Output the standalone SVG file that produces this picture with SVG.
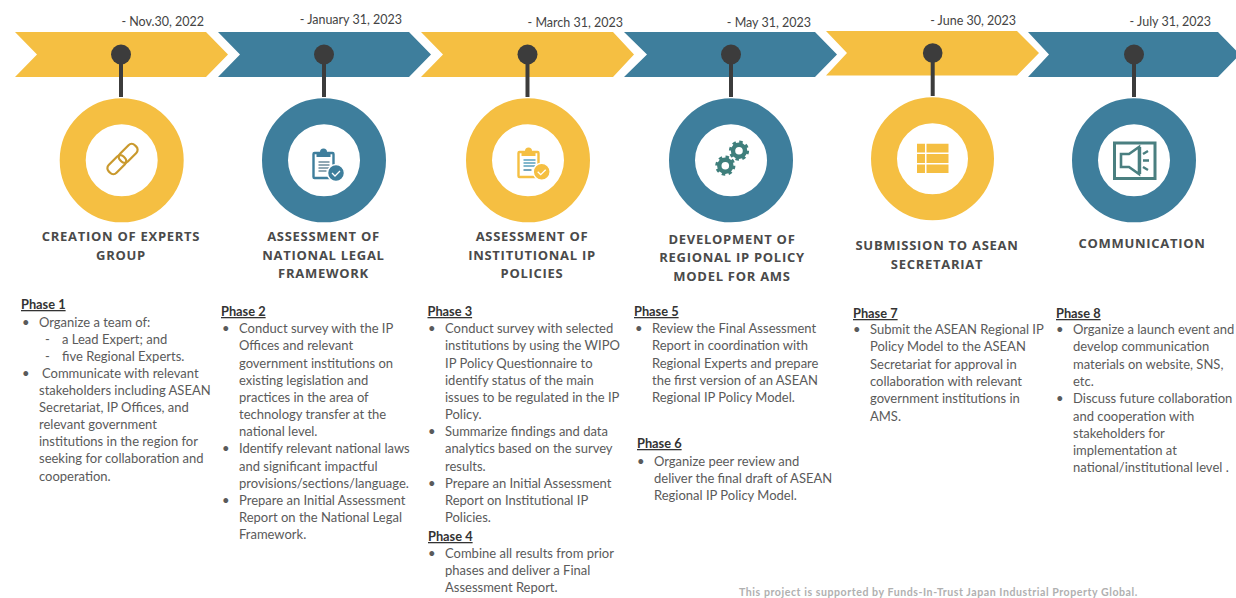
<svg xmlns="http://www.w3.org/2000/svg" width="1236" height="598" viewBox="0 0 1236 598">
<style>
.y{fill:#f5bf42}.b{fill:#3e7e9c}
.ry{fill:none;stroke:#f5bf42;stroke-width:26}.rb{fill:none;stroke:#3e7e9c;stroke-width:26}
.stem{stroke:#3c3c3c;stroke-width:4;fill:none}.pin{fill:#3c3c3c}
text{font-family:Lato,"Liberation Sans",sans-serif}
.d{font-size:12.5px;fill:#444;text-anchor:end}
.t{font-family:"Open Sans","Liberation Sans",sans-serif;font-size:13px;font-weight:700;fill:#4a4a4a;text-anchor:middle;letter-spacing:.72px}
.h{font-size:12.8px;font-weight:700;fill:#333;text-decoration:underline}
.p{font-size:13px;fill:#5a5a5a}
.f{font-size:10.6px;font-weight:700;fill:#b0b0b0;letter-spacing:.55px}
</style>
<defs>
<g id="gear"><circle r="6" fill="none" stroke="#3f7f7c" stroke-width="4.4"/><circle r="8.6" fill="none" stroke="#3f7f7c" stroke-width="3" stroke-dasharray="3.4 3.35"/></g>
<g id="clip"><rect x="1" y="3" width="20" height="25" rx="1" fill="none" stroke-width="2.4" stroke="currentColor"/><path d="M4 3h14v4H4z" fill="currentColor"/><circle cx="11" cy="2" r="3.5" fill="currentColor"/></g>
</defs>
<rect width="1236" height="598" fill="#fff"/>
<g id="node1">
<polygon class="y" points="15,32 206,32 228,54.5 206,77 15,77 37,54.5"/>
<circle class="ry" cx="121.7" cy="160.3" r="49"/>
<g transform="translate(122.5 159) rotate(-45)" fill="none" stroke="#c9992d" stroke-width="2.2"><rect x="-18.5" y="-5.5" width="21" height="11" rx="4.5"/><rect x="-2.5" y="-5.5" width="21" height="11" rx="4.5"/></g>
<text class="d" x="204" y="26">- Nov.30, 2022</text>
<text class="t"><tspan x="121" y="241">CREATION OF EXPERTS</tspan><tspan x="121" y="260">GROUP</tspan></text>
<text class="h" x="21" y="309">Phase 1</text>
<text class="p"><tspan x="22" y="327">•</tspan><tspan x="39" y="327">Organize a team of:</tspan><tspan x="45" y="344">-</tspan><tspan x="62" y="344">a Lead Expert; and</tspan><tspan x="45" y="361">-</tspan><tspan x="62" y="361">five Regional Experts.</tspan><tspan x="22" y="378">•</tspan><tspan x="42" y="378">Communicate with relevant</tspan><tspan x="39" y="395">stakeholders including ASEAN</tspan><tspan x="39" y="412">Secretariat, IP Offices, and</tspan><tspan x="39" y="429">relevant government</tspan><tspan x="39" y="446">institutions in the region for</tspan><tspan x="39" y="463">seeking for collaboration and</tspan><tspan x="39" y="481">cooperation.</tspan></text>
</g>
<g id="node2">
<polygon class="b" points="218,32 409,32 431,54.5 409,77 218,77 240,54.5"/>
<circle class="rb" cx="324" cy="160.3" r="49"/>
<g transform="translate(312.5 150)" color="#3e7e9c"><use href="#clip"/><path d="M6 12h11M6 15h11M6 18h11M6 21h8" stroke="#6d8c9c" stroke-width="1.4"/></g>
<circle cx="336" cy="173" r="8.5" fill="#3e7e9c" stroke="#fff" stroke-width="1.5"/><path d="M332 173l3 3 5-5" fill="none" stroke="#fff" stroke-width="1.3"/>
<text class="d" x="402" y="24">- January 31, 2023</text>
<text class="t"><tspan x="323.5" y="241">ASSESSMENT OF</tspan><tspan x="323.5" y="260">NATIONAL LEGAL</tspan><tspan x="323.5" y="278">FRAMEWORK</tspan></text>
<text class="h" x="221" y="316">Phase 2</text>
<text class="p"><tspan x="222" y="333">•</tspan><tspan x="239" y="333">Conduct survey with the IP</tspan><tspan x="239" y="350">Offices and relevant</tspan><tspan x="239" y="367.5">government institutions on</tspan><tspan x="239" y="385">existing legislation and</tspan><tspan x="239" y="402">practices in the area of</tspan><tspan x="239" y="419">technology transfer at the</tspan><tspan x="239" y="436">national level.</tspan><tspan x="222" y="453">•</tspan><tspan x="239" y="453">Identify relevant national laws</tspan><tspan x="239" y="470.5">and significant impactful</tspan><tspan x="239" y="487.5">provisions/sections/language.</tspan><tspan x="222" y="505">•</tspan><tspan x="239" y="505">Prepare an Initial Assessment</tspan><tspan x="239" y="522">Report on the National Legal</tspan><tspan x="239" y="539">Framework.</tspan></text>
</g>
<g id="node3">
<polygon class="y" points="421,32 613,32 634,54.5 613,77 421,77 443,54.5"/>
<circle class="ry" cx="528" cy="160.3" r="49"/>
<g transform="translate(517.5 149)" color="#f5bf42"><use href="#clip"/><path d="M6 11h12M6 14h12M6 17h12" stroke="#5aa0bd" stroke-width="1.4"/><path d="M6 21h8" stroke="#3e7e9c" stroke-width="1.4"/></g>
<circle cx="541.7" cy="171.7" r="8.5" fill="#f5bf42" stroke="#fff" stroke-width="1.5"/><path d="M537.7 171.7l3 3 5-5" fill="none" stroke="#fff" stroke-width="1.3"/>
<text class="d" x="623" y="27">- March 31, 2023</text>
<text class="t"><tspan x="532" y="241">ASSESSMENT OF</tspan><tspan x="532" y="260">INSTITUTIONAL IP</tspan><tspan x="532" y="278">POLICIES</tspan></text>
<text class="h" x="427.5" y="316">Phase 3</text>
<text class="p"><tspan x="428" y="333">•</tspan><tspan x="445" y="333">Conduct survey with selected</tspan><tspan x="445" y="350">institutions by using the WIPO</tspan><tspan x="445" y="367.5">IP Policy Questionnaire to</tspan><tspan x="445" y="385">identify status of the main</tspan><tspan x="445" y="402">issues to be regulated in the IP</tspan><tspan x="445" y="419">Policy.</tspan><tspan x="428" y="436">•</tspan><tspan x="445" y="436">Summarize findings and data</tspan><tspan x="445" y="453">analytics based on the survey</tspan><tspan x="445" y="470.5">results.</tspan><tspan x="428" y="487.5">•</tspan><tspan x="445" y="487.5">Prepare an Initial Assessment</tspan><tspan x="445" y="505">Report on Institutional IP</tspan><tspan x="445" y="522">Policies.</tspan></text>
<text class="h" x="428" y="541">Phase 4</text>
<text class="p"><tspan x="428" y="558">•</tspan><tspan x="445" y="558">Combine all results from prior</tspan><tspan x="445" y="575">phases and deliver a Final</tspan><tspan x="445" y="592">Assessment Report.</tspan></text>
</g>
<g id="node4">
<polygon class="b" points="624,32 815,32 837,54.5 815,77 624,77 647,54.5"/>
<circle class="rb" cx="731" cy="160.3" r="49"/>
<use href="#gear" x="725.3" y="165.7"/><use href="#gear" x="739" y="150.7"/>
<text class="d" x="811" y="27">- May 31, 2023</text>
<text class="t"><tspan x="732" y="243.5">DEVELOPMENT OF</tspan><tspan x="732" y="262">REGIONAL IP POLICY</tspan><tspan x="732" y="281">MODEL FOR AMS</tspan></text>
<text class="h" x="634" y="316">Phase 5</text>
<text class="p"><tspan x="635" y="333">•</tspan><tspan x="652" y="333">Review the Final Assessment</tspan><tspan x="652" y="350">Report in coordination with</tspan><tspan x="652" y="367.5">Regional Experts and prepare</tspan><tspan x="652" y="385">the first version of an ASEAN</tspan><tspan x="652" y="402">Regional IP Policy Model.</tspan></text>
<text class="h" x="637" y="448">Phase 6</text>
<text class="p"><tspan x="637" y="466">•</tspan><tspan x="654" y="466">Organize peer review and</tspan><tspan x="654" y="483">deliver the final draft of ASEAN</tspan><tspan x="654" y="500">Regional IP Policy Model.</tspan></text>
</g>
<g id="node5">
<polygon class="y" points="826,31 1017,31 1039,53 1017,75.5 826,75.5 847,53"/>
<circle class="ry" cx="932.5" cy="158.8" r="48.5"/>
<path class="y" d="M917 143.7h8v8.800h-8zM926.500 143.700h22v8.800h-22zM917 154h8v9h-8zM926.500 154h22v9h-22zM917 164.500h8v8.500h-8zM926.500 164.500h22v8.500h-22z"/>
<text class="d" x="1016" y="25">- June 30, 2023</text>
<text class="t"><tspan x="937" y="250">SUBMISSION TO ASEAN</tspan><tspan x="937" y="269">SECRETARIAT</tspan></text>
<text class="h" x="853" y="318">Phase 7</text>
<text class="p"><tspan x="853" y="334">•</tspan><tspan x="870" y="334">Submit the ASEAN Regional IP</tspan><tspan x="870" y="351">Policy Model to the ASEAN</tspan><tspan x="870" y="368.5">Secretariat for approval in</tspan><tspan x="870" y="386">collaboration with relevant</tspan><tspan x="870" y="403">government institutions in</tspan><tspan x="870" y="421">AMS.</tspan></text>
</g>
<g id="node6">
<polygon class="b" points="1028,32 1218,32 1240,54.5 1218,77 1028,77 1049,54.5"/>
<circle class="rb" cx="1134" cy="160.3" r="49"/>
<rect x="1114.5" y="143" width="40.500" height="35.500" fill="none" stroke="#4a7f80" stroke-width="3"/>
<path d="M1121 154h8l10-7v27l-10-7h-8z" fill="none" stroke="#4a7f80" stroke-width="2.6"/>
<path d="M1140 147v27M1143 154l5-3M1143 160.500h6M1143 167l5 3" fill="none" stroke="#4a7f80" stroke-width="2.4"/>
<text class="d" x="1211" y="26">- July 31, 2023</text>
<text class="t" x="1142" y="248">COMMUNICATION</text>
<text class="h" x="1056" y="318">Phase 8</text>
<text class="p"><tspan x="1056" y="334">•</tspan><tspan x="1073" y="334">Organize a launch event and</tspan><tspan x="1073" y="351">develop communication</tspan><tspan x="1073" y="368.5">materials on website, SNS,</tspan><tspan x="1073" y="386">etc.</tspan><tspan x="1056" y="403">•</tspan><tspan x="1073" y="403">Discuss future collaboration</tspan><tspan x="1073" y="421">and cooperation with</tspan><tspan x="1073" y="438">stakeholders for</tspan><tspan x="1073" y="455">implementation at</tspan><tspan x="1073" y="472">national/institutional level .</tspan></text>
</g>
<g id="connectors">
<path class="stem" d="M121 55V97"/><path class="stem" d="M324 55V97"/><path class="stem" d="M527.5 55V97"/><path class="stem" d="M731 55V97"/><path class="stem" d="M932.7 53V96"/><path class="stem" d="M1134 55V97"/>
<circle class="pin" cx="121" cy="54.5" r="10"/><circle class="pin" cx="324" cy="54.5" r="10"/><circle class="pin" cx="527.5" cy="54.5" r="10"/><circle class="pin" cx="731" cy="54.5" r="10"/><circle class="pin" cx="932.7" cy="53" r="9.8"/><circle class="pin" cx="1134" cy="54.5" r="10"/>
</g>
<text class="f" x="739" y="596">This project is supported by Funds-In-Trust Japan Industrial Property Global.</text>
</svg>
